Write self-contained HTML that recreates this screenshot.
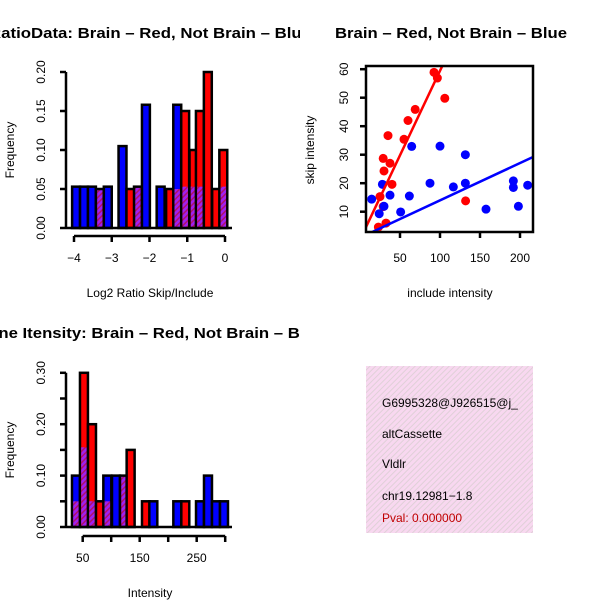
<!DOCTYPE html>
<html><head><meta charset="utf-8"><style>
html,body{margin:0;padding:0;background:#fff;}
svg{display:block;font-family:"Liberation Sans",sans-serif;}
</style></head><body>
<svg id="s" width="600" height="600" viewBox="0 0 600 600" xmlns="http://www.w3.org/2000/svg">
<defs>
<pattern id="purp" width="4" height="4" patternUnits="userSpaceOnUse" patternTransform="rotate(45)">
<rect width="4" height="4" fill="#a020f0"/><rect width="1.5" height="4" fill="#b0106e"/></pattern>
<pattern id="pink" width="4" height="4" patternUnits="userSpaceOnUse" patternTransform="rotate(45)">
<rect width="4" height="4" fill="#f8d8f0"/><rect width="1" height="4" fill="#e0d0d8"/></pattern>
<clipPath id="cl"><rect x="0" y="0" width="300" height="600"/></clipPath>
<clipPath id="cscat"><rect x="366" y="66" width="167" height="166"/></clipPath>
<clipPath id="cbox"><rect x="366" y="366" width="167" height="167"/></clipPath>
</defs>
<g clip-path="url(#cl)">
<text x="150" y="38" text-anchor="middle" font-size="15" font-weight="bold" textLength="322" lengthAdjust="spacingAndGlyphs">RatioData: Brain – Red, Not Brain – Blue</text>
<text x="150" y="338" text-anchor="middle" font-size="15" font-weight="bold" textLength="348" lengthAdjust="spacingAndGlyphs">Gene Itensity: Brain – Red, Not Brain – Blue</text>
</g>
<text x="451" y="38" text-anchor="middle" font-size="15" font-weight="bold" textLength="232" lengthAdjust="spacingAndGlyphs">Brain – Red, Not Brain – Blue</text>
<text x="150" y="297" text-anchor="middle" font-size="12">Log2 Ratio Skip/Include</text>
<text x="14" y="150" text-anchor="middle" font-size="12" transform="rotate(-90 14 150)">Frequency</text>
<text x="150" y="597" text-anchor="middle" font-size="12">Intensity</text>
<text x="14" y="450" text-anchor="middle" font-size="12" transform="rotate(-90 14 450)">Frequency</text>
<text x="450" y="297" text-anchor="middle" font-size="12">include intensity</text>
<text x="314" y="150" text-anchor="middle" font-size="12" transform="rotate(-90 314 150)">skip intensity</text>
<g>
<rect x="366" y="366" width="167" height="167" fill="url(#pink)"/>
<g clip-path="url(#cbox)" font-size="12">
<text x="382" y="407">G6995328@J926515@j_</text>
<text x="382" y="438">altCassette</text>
<text x="382" y="468">Vldlr</text>
<text x="382" y="500">chr19.12981−1.8</text>
<text x="382" y="522" fill="#c00000">Pval: 0.000000</text>
</g></g>
<g id="g1"></g><g id="g2"></g><g id="g3"></g>
</svg>
<script>
// Ratio histogram data
const ratioLeft=[-4.05,-3.84,-3.63,-3.42,-3.21,-2.82,-2.61,-2.41,-2.20,-1.81,-1.56,-1.37,-1.16,-0.94,-0.77,-0.56,-0.34,-0.15];
const ratioHeight=[0.053,0.053,0.053,0.05,0.053,0.105,0.05,0.053,0.158,0.053,0.05,0.158,0.15,0.10,0.15,0.20,0.05,0.10];
const ratioColor=["blue","blue","blue","purple","blue","blue","red","purple","blue","blue","red","blue","red","red","red","red","red","red"];
const ratioPurple=[0,0,0,0,0,0,0,0,0,0,0,0.05,0.053,0.053,0.053,0,0,0.053];
const ratioXTicks=[-4,-3,-2,-1,0];
const ratioYTicks=[0,0.05,0.10,0.15,0.20];
// Intensity histogram data
const intLeft=[31.2,45.2,59.3,73.3,86.2,101.4,115.4,127.1,154,166.9,209,223,248.8,262.8,276.8,290.9];
const intHeight=[0.10,0.30,0.20,0.05,0.10,0.10,0.10,0.15,0.05,0.05,0.05,0.05,0.05,0.10,0.05,0.05];
const intColor=["blue","red","red","red","blue","blue","purple","red","red","blue","blue","red","blue","blue","blue","blue"];
const intPurple=[0.05,0.155,0.05,0,0.05,0,0,0,0,0,0,0,0,0,0,0];
const intXTicks=[50,150,250];
const intXMinor=[100,200,300];
const intYTicks=[0,0.10,0.20,0.30];
// Scatter data
const redX=[92.5,96.7,106,69,60,35,55,29,37.5,30,40,25,29,132,23,32.5];
const redY=[58.9,56.9,49.8,45.9,42,36.7,35.4,28.7,27,24.3,19.6,15.3,11.8,13.8,4.6,6];
const blueX=[64.6,100,131.7,28,87.5,116.7,131.7,191.7,191.7,209.6,14.6,37.5,61.7,30,24,50.8,157.5,198];
const blueY=[32.9,33,30,19.6,20,18.7,20,20.8,18.5,19.3,14.4,15.8,15.5,11.9,9.3,9.9,10.9,11.9];
const redFit=[0.15,0.593];
const blueFit=[0.87,0.131];
const scXTicks=[50,100,150,200];
const scYTicks=[10,20,30,40,50,60];

const NS="http://www.w3.org/2000/svg";
function mk(p,t,a){const e=document.createElementNS(NS,t);for(const k in a)e.setAttribute(k,a[k]);p.appendChild(e);return e;}
const fillOf={blue:"#0000ff",red:"#ff0000",purple:"url(#purp)"};

function hist(g,left,h,col,pur,w,xs,ys){
  for(let i=0;i<left.length;i++){
    const x0=xs(left[i]),x1=xs(left[i]+w);
    const r=mk(g,"rect",{x:x0,y:ys(h[i]),width:x1-x0,height:ys(0)-ys(h[i]),fill:fillOf[col[i]],stroke:"#000","stroke-width":2.5});
    
    
    if(pur[i]>0){
      const p=mk(g,"rect",{x:x0+1.2,y:ys(pur[i]),width:x1-x0-2.4,height:ys(0)-ys(pur[i])-1.2,fill:"url(#purp)"});
      
      
    }
  }
}
// Ratio hist
(function(){
  const g=document.getElementById("g1");
  const xs=v=>225+v*37.75, ys=v=>228-v*780;
  hist(g,ratioLeft,ratioHeight,ratioColor,ratioPurple,0.21,xs,ys);
  mk(g,"line",{x1:66,y1:228,x2:232,y2:228,stroke:"#000","stroke-width":2.5});
  mk(g,"line",{x1:66,y1:ys(0),x2:66,y2:ys(0.2),stroke:"#000","stroke-width":2.5});
  ratioYTicks.forEach(v=>{mk(g,"line",{x1:60,x2:66,y1:ys(v),y2:ys(v),stroke:"#000","stroke-width":2.5});
    const t=mk(g,"text",{x:45,y:ys(v),"font-size":12,"text-anchor":"middle",transform:`rotate(-90 45 ${ys(v)})`});t.textContent=v.toFixed(2);
    });
  mk(g,"line",{x1:xs(-4),x2:xs(0),y1:236,y2:236,stroke:"#000","stroke-width":2.5});
  ratioXTicks.forEach(v=>{mk(g,"line",{x1:xs(v),x2:xs(v),y1:236,y2:242,stroke:"#000","stroke-width":2.5});
    const t=mk(g,"text",{x:xs(v),y:262,"font-size":12,"text-anchor":"middle"});t.textContent=v<0?"−"+(-v):v;
    });
})();
// Intensity hist
(function(){
  const g=document.getElementById("g3");
  const xs=v=>82.7+(v-50)*0.57, ys=v=>527-v*514;
  hist(g,intLeft,intHeight,intColor,intPurple,14,xs,ys);
  mk(g,"line",{x1:66,y1:527,x2:232,y2:527,stroke:"#000","stroke-width":2.5});
  mk(g,"line",{x1:66,y1:ys(0),x2:66,y2:ys(0.3),stroke:"#000","stroke-width":2.5});
  [0,0.05,0.1,0.15,0.2,0.25,0.3].forEach(v=>mk(g,"line",{x1:60,x2:66,y1:ys(v),y2:ys(v),stroke:"#000","stroke-width":2.5}));
  intYTicks.forEach(v=>{const t=mk(g,"text",{x:45,y:ys(v),"font-size":12,"text-anchor":"middle",transform:`rotate(-90 45 ${ys(v)})`});t.textContent=v.toFixed(2);
    });
  mk(g,"line",{x1:xs(50),x2:xs(300),y1:536,y2:536,stroke:"#000","stroke-width":2.5});
  intXTicks.concat(intXMinor).forEach(v=>mk(g,"line",{x1:xs(v),x2:xs(v),y1:536,y2:542,stroke:"#000","stroke-width":2.5}));
  intXTicks.forEach(v=>{const t=mk(g,"text",{x:xs(v),y:562,"font-size":12,"text-anchor":"middle"});t.textContent=v;
    });
})();
// Scatter
(function(){
  const g=document.getElementById("g2");
  const xs=v=>360+v*0.8, ys=v=>211.7-(v-10)*2.85;
  const c=mk(g,"g",{"clip-path":"url(#cscat)"});
  redX.forEach((x,i)=>{const e=mk(c,"circle",{cx:xs(x),cy:ys(redY[i]),r:4.5,fill:"#ff0000"});
    });
  blueX.forEach((x,i)=>{const e=mk(c,"circle",{cx:xs(x),cy:ys(blueY[i]),r:4.5,fill:"#0000ff"});
    });
  const l1=mk(c,"line",{x1:xs(0),y1:ys(redFit[0]),x2:xs(250),y2:ys(redFit[0]+redFit[1]*250),stroke:"#ff0000","stroke-width":2.5});
  
  const l2=mk(c,"line",{x1:xs(0),y1:ys(blueFit[0]),x2:xs(250),y2:ys(blueFit[0]+blueFit[1]*250),stroke:"#0000ff","stroke-width":2.5});
  
  mk(g,"rect",{x:366,y:66,width:167,height:166,fill:"none",stroke:"#000","stroke-width":2.5});
  scXTicks.forEach(v=>{mk(g,"line",{x1:xs(v),x2:xs(v),y1:232,y2:238,stroke:"#000","stroke-width":2.5});
    const t=mk(g,"text",{x:xs(v),y:262,"font-size":12,"text-anchor":"middle"});t.textContent=v;
    });
  scYTicks.forEach(v=>{mk(g,"line",{x1:360,x2:366,y1:ys(v),y2:ys(v),stroke:"#000","stroke-width":2.5});
    const t=mk(g,"text",{x:348,y:ys(v),"font-size":12,"text-anchor":"middle",transform:`rotate(-90 348 ${ys(v)})`});t.textContent=v;
    });
})();
</script>
</body></html>
